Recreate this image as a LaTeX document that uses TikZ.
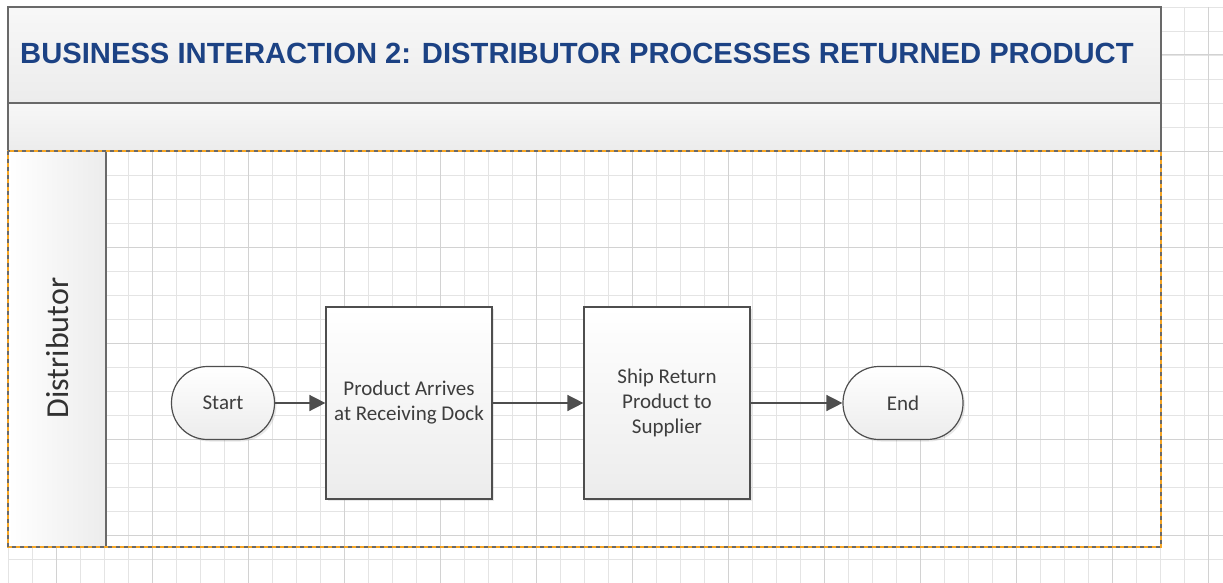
\documentclass[tikz,border=0pt]{standalone}
\usepackage{fontspec}
\setmainfont{Carlito}
\newfontfamily\titlefont{Liberation Sans}
\usetikzlibrary{positioning,arrows.meta,shadows}
\definecolor{titleblue}{RGB}{28,66,132}
\definecolor{framegrey}{RGB}{105,105,105}
\definecolor{laneorange}{RGB}{247,166,36}
\definecolor{gridminor}{RGB}{228,228,228}
\definecolor{gridmajor}{RGB}{210,210,210}
\definecolor{edgegrey}{RGB}{78,78,78}
\definecolor{txtgrey}{RGB}{62,62,62}
\definecolor{headfill}{RGB}{236,236,236}
\tikzset{
  gline/.style  ={draw=gridminor, line width=0.8pt},
  gmajor/.style ={draw=gridmajor, line width=1pt},
  band/.style   ={draw=framegrey, line width=1.5pt, top color=white!97!black, bottom color=headfill},
  term/.style   ={draw=edgegrey, line width=1.2pt, rounded corners=36pt, top color=white, bottom color=headfill,
                  minimum height=73pt, font=\fontsize{21}{25}\selectfont, text=txtgrey,
                  drop shadow={shadow xshift=2pt, shadow yshift=-2pt, opacity=0.18}},
  proc/.style   ={draw=edgegrey, line width=1.2pt, top color=white, bottom color=headfill, align=center,
                  minimum width=166pt, minimum height=192pt, inner sep=2pt,
                  font=\fontsize{21}{25}\selectfont, text=txtgrey,
                  drop shadow={shadow xshift=2pt, shadow yshift=-2pt, opacity=0.18}},
  flow/.style   ={-{Triangle[length=16pt,width=16pt]}, draw=edgegrey, line width=1.5pt},
}
\begin{document}
\begin{tikzpicture}[x=1pt,y=-1pt]
\useasboundingbox (0,0) rectangle (1223,583);

% background grid
\foreach \x in {8,32,...,1223} \draw[gline] (\x,7) -- (\x,583);
\foreach \y in {7,31,...,583} \draw[gline] (8,\y) -- (1223,\y);
\foreach \x in {56,152,...,1223} \draw[gmajor] (\x,7) -- (\x,583);
\foreach \y in {55,151,...,583} \draw[gmajor] (8,\y) -- (1223,\y);

% pool header
\draw[band] (8,7) rectangle (1161,103);
\draw[band] (8,103) rectangle (1161,151);
\node[anchor=west, font=\titlefont\bfseries\fontsize{29.2}{33}\selectfont, text=titleblue, inner sep=0pt]
   (title) at (20,53) {BUSINESS INTERACTION 2: DISTRIBUTOR PROCESSES RETURNED PRODUCT};

% lane
\fill[left color=white, right color=headfill] (8,151) rectangle (106,547);
\draw[framegrey, line width=1.5pt] (106,151) -- (106,547);
\node[rotate=90, font=\fontsize{32}{36}\selectfont, text=txtgrey!80!black] (lane) at (58,348) {Distributor};
\draw[laneorange, line width=1.5pt] (8,151) rectangle (1161,547);
\draw[framegrey, line width=1.5pt, dash pattern=on 4pt off 4pt] (8,151) rectangle (1161,547);

% process
\node[term, minimum width=103pt] (start) at (223,403) {Start};
\node[proc] (arrive) at (409,403) {Product Arrives\\at Receiving Dock};
\node[proc] (ship) at (667,403) {Ship Return\\Product to\\Supplier};
\node[term, minimum width=120pt] (finish) at (903,403) {End};

\draw[flow] (start) -- (arrive);
\draw[flow] (arrive) -- (ship);
\draw[flow] (ship) -- (finish);
\end{tikzpicture}
\end{document}
